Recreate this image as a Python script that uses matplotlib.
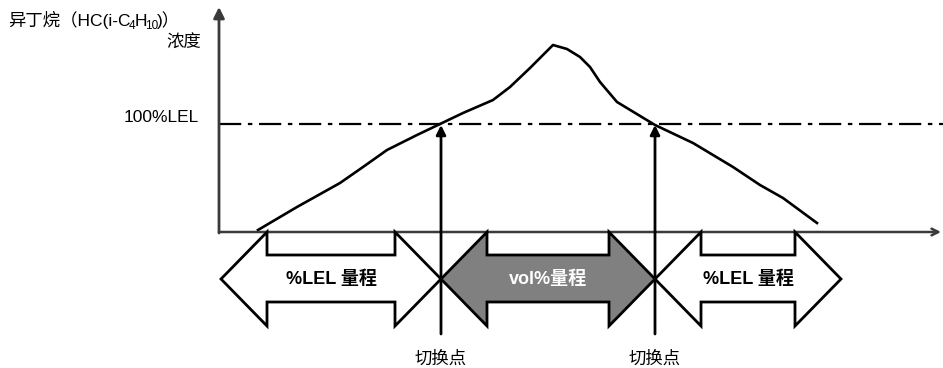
import matplotlib
matplotlib.use('Agg')
import matplotlib.pyplot as plt
from matplotlib.patches import Polygon

plt.rcParams['font.family'] = ['Liberation Sans', 'Noto Sans CJK SC']

# concentration curve (pixel-space diagram coordinates)
curve_x = [258, 297, 340, 363, 387, 417, 440, 463, 493, 510, 530, 553,
           567, 580, 590, 600, 617, 655, 693, 733, 760, 783, 817]
curve_y = [230, 207, 183, 167, 150, 135, 124, 113, 100, 87, 68, 45,
           49, 57, 67, 82, 102, 125, 143, 167, 185, 198, 223]

lel_y = 124
switch_x = [441, 655]
switch_label = '切换点'

range_start = [221, 441, 655]
range_end = [441, 655, 841]
range_labels = ['%LEL 量程', 'vol%量程', '%LEL 量程']
range_fill = ['white', '#808080', 'white']
range_text = ['black', 'white', 'black']

# title pieces: (text, is_subscript)
title_parts = [('异丁烷（HC(i-C', False), ('4', True), ('H', False),
               ('10', True), (')）', False)]

fig = plt.figure(figsize=(9.43, 3.68), dpi=100)
ax = fig.add_axes([0, 0, 1, 1])
ax.set_xlim(0, 943)
ax.set_ylim(368, 0)
ax.axis('off')

axis_col = '#3a3a3a'
x0, y0 = 219, 232

# axes
ax.annotate('', xy=(x0, 7), xytext=(x0, y0 + 1),
            arrowprops=dict(arrowstyle='-|>', lw=2, color=axis_col,
                            mutation_scale=16, shrinkA=0, shrinkB=0))
ax.annotate('', xy=(941, y0), xytext=(x0, y0),
            arrowprops=dict(arrowstyle='->', lw=1.8, color=axis_col,
                            mutation_scale=12, shrinkA=0, shrinkB=0))

# 100%LEL line
ax.plot([x0, 943], [lel_y, lel_y], color='black', lw=1.6,
        dashes=(10, 3, 2, 3))

ax.plot(curve_x, curve_y, color='black', lw=1.9, solid_joinstyle='round')

# switch point arrows
for sx in switch_x:
    ax.annotate('', xy=(sx, lel_y + 1), xytext=(sx, 334),
                arrowprops=dict(arrowstyle='-|>', lw=2, color='black',
                                mutation_scale=14, shrinkA=0, shrinkB=0))
    ax.text(sx, 359, switch_label, ha='center', va='center', fontsize=12.5)

# range double arrows
head = 46
top, stop, mid, sbot, bot = 232, 255, 279, 302, 326
for a, b, lab, fc, tc in zip(range_start, range_end, range_labels,
                             range_fill, range_text):
    pts = [(a, mid), (a + head, top), (a + head, stop), (b - head, stop),
           (b - head, top), (b, mid), (b - head, bot), (b - head, sbot),
           (a + head, sbot), (a + head, bot)]
    ax.add_patch(Polygon(pts, closed=True, facecolor=fc, edgecolor='black',
                         lw=2, joinstyle='miter', zorder=3))
    ax.text((a + b) / 2, mid, lab, ha='center', va='center', fontsize=13,
            fontweight='bold', color=tc, zorder=4)

# title with subscripts, laid out piece by piece
renderer = fig.canvas.get_renderer()
tx, base = 8, 26
for txt, sub in title_parts:
    t = ax.text(tx, base + (3 if sub else 0), txt, ha='left', va='baseline',
                fontsize=8.5 if sub else 12.5)
    tx += t.get_window_extent(renderer).width - 1.5

ax.text(201, 43, '浓度', ha='right', va='center', fontsize=12.5)
ax.text(199, 117, '100%LEL', ha='right', va='center', fontsize=12.5)

fig.savefig('out.png', dpi=100)
